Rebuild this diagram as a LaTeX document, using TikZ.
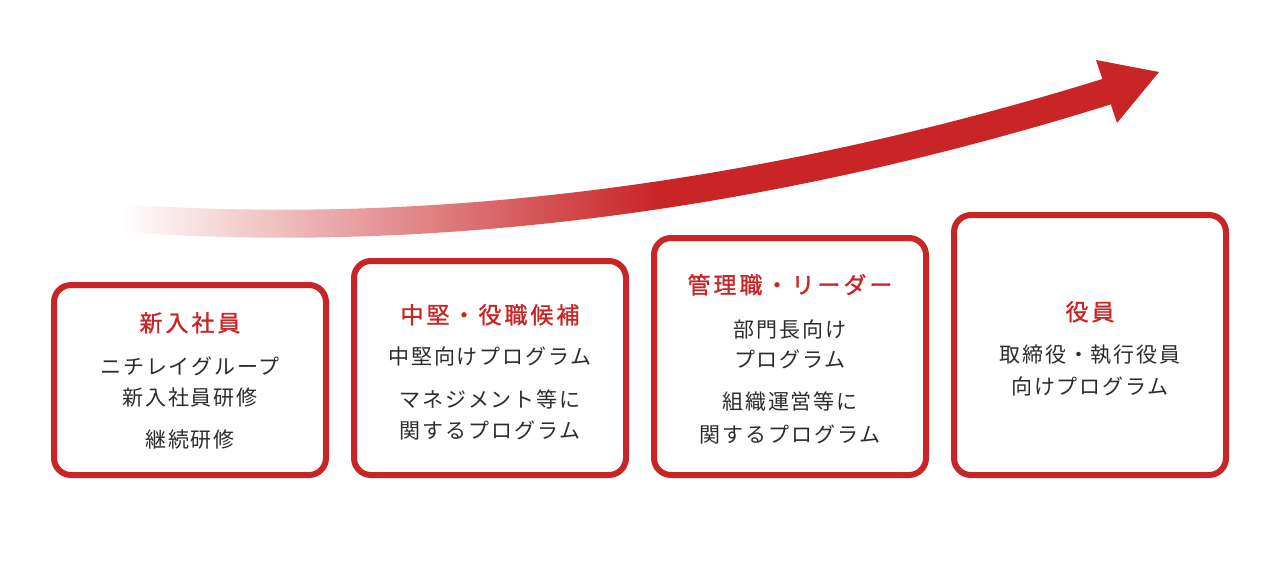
\documentclass[tikz,border=0pt]{standalone}
\usepackage{fontspec}
\setmainfont{Noto Sans CJK JP}[LetterSpace=9]
\newfontfamily\titlefont{Noto Sans CJK JP}[LetterSpace=13, FakeBold=1.2]
\usepackage{tikz}
\definecolor{stepred}{RGB}{201,37,39}
\definecolor{textgray}{RGB}{44,44,44}
\pgfdeclarehorizontalshading{shaftfade}{100bp}{color(0bp)=(white); color(25bp)=(white); color(52bp)=(stepred); color(100bp)=(stepred)}

\begin{document}
\begin{tikzpicture}[x=1pt,y=-1pt,
		stagebox/.style={draw=stepred, line width=6pt, rounded corners=17pt, fill=white, inner sep=0pt},
		stagetitle/.style={text=stepred, font=\titlefont\fontsize{23}{27}\selectfont, text height=19.3pt, text depth=2.3pt, inner sep=0pt},
		stageline/.style={text=textgray, font=\fontsize{21}{25}\selectfont, text height=17.7pt, text depth=2.1pt, inner sep=0pt}]
				\useasboundingbox (0, 0) rectangle (1280, 560);
				
				%\draw [-] (0, 0) rectangle (1280, 560);
				\shade [shading=shaftfade] (120, 204) .. controls (500, 231) and (850, 158) .. (1112, 76) -- (1112, 104) .. controls (850, 186) and (500, 259) .. (120, 232) -- cycle;
				\coordinate (headtop) at (1096, 60);
				\coordinate (headtip) at (1159, 72);
				\coordinate (headlow) at (1117, 123);
				\fill [stepred] (headtop) -- (headtip) -- (headlow) -- cycle;
				
				\node[stagebox, minimum width=272, minimum height=190] (newhire) at (190, 380) {};
				\node[stagebox, minimum width=272, minimum height=214] (midlevel) at (490, 368) {};
				\node[stagebox, minimum width=272, minimum height=237] (manager) at (790, 356.5) {};
				\node[stagebox, minimum width=272, minimum height=260] (officer) at (1090, 345) {};
				
				\node[stagetitle] (newhire-t) at (190, 323) {新入社員};
				\node[stageline] (newhire-1) at (190, 366.5) {ニチレイグループ};
				\node[stageline] (newhire-2) at (190, 398) {新入社員研修};
				\node[stageline] (newhire-3) at (190, 440) {継続研修};
				
				\node[stagetitle] (midlevel-t) at (490, 315) {中堅・役職候補};
				\node[stageline] (midlevel-1) at (490, 357) {中堅向けプログラム};
				\node[stageline] (midlevel-2) at (490, 400) {マネジメント等に};
				\node[stageline] (midlevel-3) at (490, 430.5) {関するプログラム};
				
				\node[stagetitle] (manager-t) at (790, 285) {管理職・リーダー};
				\node[stageline] (manager-1) at (790, 329.5) {部門長向け};
				\node[stageline] (manager-2) at (790, 360) {プログラム};
				\node[stageline] (manager-3) at (790, 402) {組織運営等に};
				\node[stageline] (manager-4) at (790, 435) {関するプログラム};
				
				\node[stagetitle] (officer-t) at (1090, 312) {役員};
				\node[stageline] (officer-1) at (1090, 355) {取締役・執行役員};
				\node[stageline] (officer-2) at (1090, 387) {向けプログラム};
			\end{tikzpicture}
\end{document}
